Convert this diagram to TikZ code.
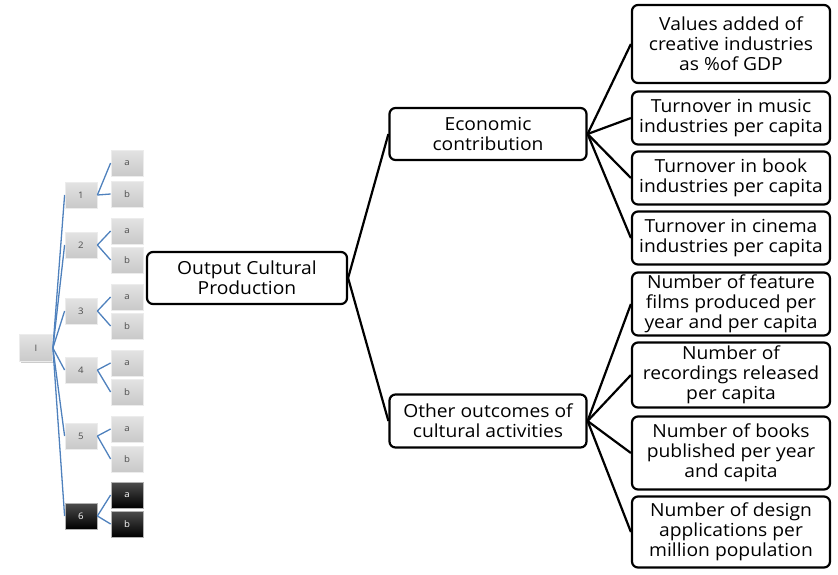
\documentclass[tikz,border=0pt]{standalone}
\usepackage{fontspec}
\setmainfont{Open Sans}[FakeStretch=1.07]
\usepackage{tikz}
\usetikzlibrary{positioning,shadows}
\definecolor{treeblue}{HTML}{4F81BD}

\begin{document}
\begin{tikzpicture}[
  x=1pt, y=-1pt,
  card/.style={draw=black, line width=2.2pt, rounded corners=6pt, fill=white, minimum width=198pt, align=center, inner sep=1pt, font=\fontsize{18}{20}\selectfont},
  tile/.style={draw=gray!15, line width=0.8pt, top color=gray!22, bottom color=gray!42, minimum width=32pt, minimum height=26pt, inner sep=0pt, text=black!70, font=\fontsize{9}{9}\selectfont, drop shadow={opacity=0.4, shadow xshift=1pt, shadow yshift=-1pt}},
  darktile/.style={tile, draw=gray!60, top color=gray!60!black, bottom color=black, text=white},
  link/.style={black, line width=2.2pt},
  twig/.style={treeblue, line width=1.3pt},
]
\useasboundingbox (0,0) rectangle (838,574);

% small tree on the left
\node[tile, minimum width=33pt, minimum height=27pt] (root) at (36,348) {I};
\foreach \n/\y/\ya/\yb in {1/195/163/194, 2/245/231/260, 3/311/297/326, 4/370/363/392, 5/436/429/459}{
  \node[tile] (s\n) at (81,\y) {\n};
  \node[tile] (s\n-a) at (127,\ya) {a};
  \node[tile] (s\n-b) at (127,\yb) {b};
  \draw[twig] (root.east) -- (s\n.west);
  \draw[twig] (s\n.east) -- (s\n-a.west);
  \draw[twig] (s\n.east) -- (s\n-b.west);
}
\node[darktile] (s6) at (81,516) {6};
\node[darktile] (s6-a) at (127,495) {a};
\node[darktile] (s6-b) at (127,524) {b};
\draw[twig] (root.east) -- (s6.west);
\draw[twig] (s6.east) -- (s6-a.west);
\draw[twig] (s6.east) -- (s6-b.west);

% main tree
\node[card, minimum width=200pt, minimum height=52pt] (ocp) at (247,278) {Output Cultural\\Production};
\node[card, minimum width=197pt, minimum height=52pt] (econ) at (488,134) {Economic\\contribution};
\node[card, minimum width=197pt, minimum height=53pt] (other) at (488,421) {Other outcomes of\\cultural activities};

\node[card, minimum height=78pt] (gdp) at (731,44) {Values added of\\creative industries\\as \%of GDP};
\node[card, minimum height=53pt] (music) at (731,118) {Turnover in music\\industries per capita};
\node[card, minimum height=53pt] (book) at (731,178) {Turnover in book\\industries per capita};
\node[card, minimum height=53pt] (cinema) at (731,238) {Turnover in cinema\\industries per capita};
\node[card, minimum height=63pt] (films) at (731,304) {Number of feature\\films produced per\\year and per capita};
\node[card, minimum height=65pt] (records) at (731,375) {Number of\\recordings released\\per capita};
\node[card, minimum height=73pt] (books) at (731,453) {Number of books\\published per year\\and capita};
\node[card, minimum height=71pt] (design) at (731,532) {Number of design\\applications per\\million population};

\draw[link] (ocp.east) -- (econ.west);
\draw[link] (ocp.east) -- (other.west);
\foreach \t in {gdp,music,book,cinema}
  \draw[link] (econ.east) -- (\t.west);
\foreach \t in {films,records,books,design}
  \draw[link] (other.east) -- (\t.west);
\end{tikzpicture}
\end{document}
